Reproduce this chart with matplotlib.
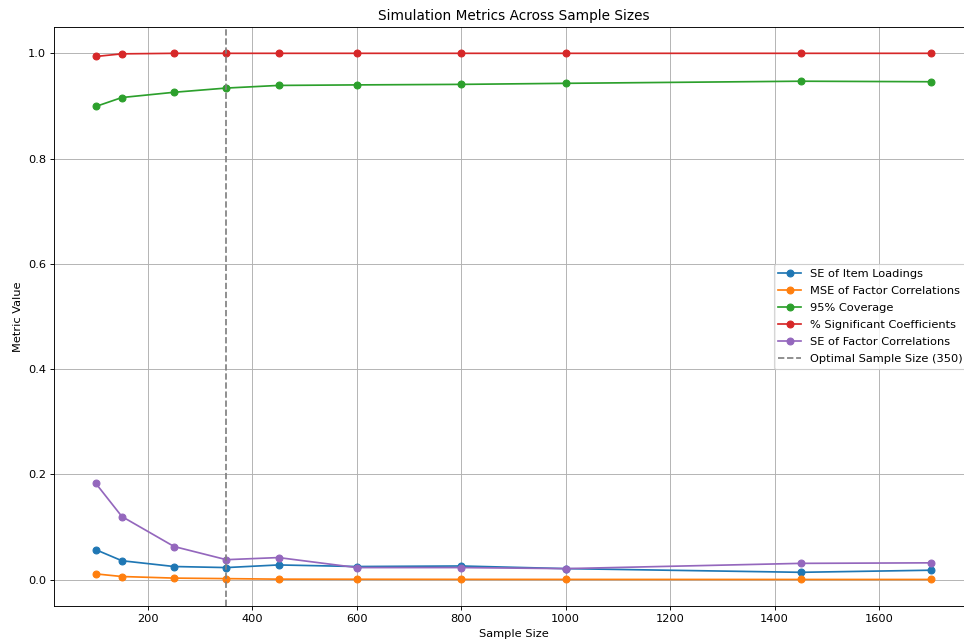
import matplotlib
matplotlib.use("Agg")
import matplotlib.pyplot as plt

# sample sizes and metrics
sample_sizes = [100, 150, 250, 350, 450, 600, 800, 1000, 1450, 1700]
se_loadings = [0.057, 0.036, 0.025, 0.023, 0.028, 0.025, 0.026, 0.021, 0.014, 0.018]
mse_corr = [0.011, 0.006, 0.003, 0.002, 0.001, 0.0008, 0.0006, 0.0005, 0.0004, 0.0004]
coverage = [0.899, 0.916, 0.926, 0.934, 0.939, 0.940, 0.941, 0.943, 0.947, 0.946]
pct_signif = [0.994, 0.999, 1.0, 1.0, 1.0, 1.0, 1.0, 1.0, 1.0, 1.0]
se_corr = [0.183, 0.120, 0.063, 0.038, 0.042, 0.023, 0.023, 0.021, 0.031, 0.032]
optimal_n = 350

# reference looks like a scaled-down, right-cropped figure -> dpi 82, axes run past right edge
W, H = 964, 641
fig = plt.figure(figsize=(W / 82, H / 82), dpi=82)
ax = fig.add_axes([54 / W, (H - 606) / H, (973 - 54) / W, (606 - 27) / H])

ax.plot(sample_sizes, se_loadings, marker='o', label='SE of Item Loadings')
ax.plot(sample_sizes, mse_corr, marker='o', label='MSE of Factor Correlations')
ax.plot(sample_sizes, coverage, marker='o', label='95% Coverage')
ax.plot(sample_sizes, pct_signif, marker='o', label='% Significant Coefficients')
ax.plot(sample_sizes, se_corr, marker='o', label='SE of Factor Correlations')
ax.axvline(optimal_n, color='gray', linestyle='--', label='Optimal Sample Size (350)')

ax.set_title('Simulation Metrics Across Sample Sizes')
ax.set_xlabel('Sample Size')
ax.set_ylabel('Metric Value')
ax.set_xlim(20, 1780)
ax.set_ylim(-0.05, 1.05)
ax.legend(loc='center right', labelspacing=0.63)
ax.grid(True)
fig.savefig('out.png', dpi=82)
